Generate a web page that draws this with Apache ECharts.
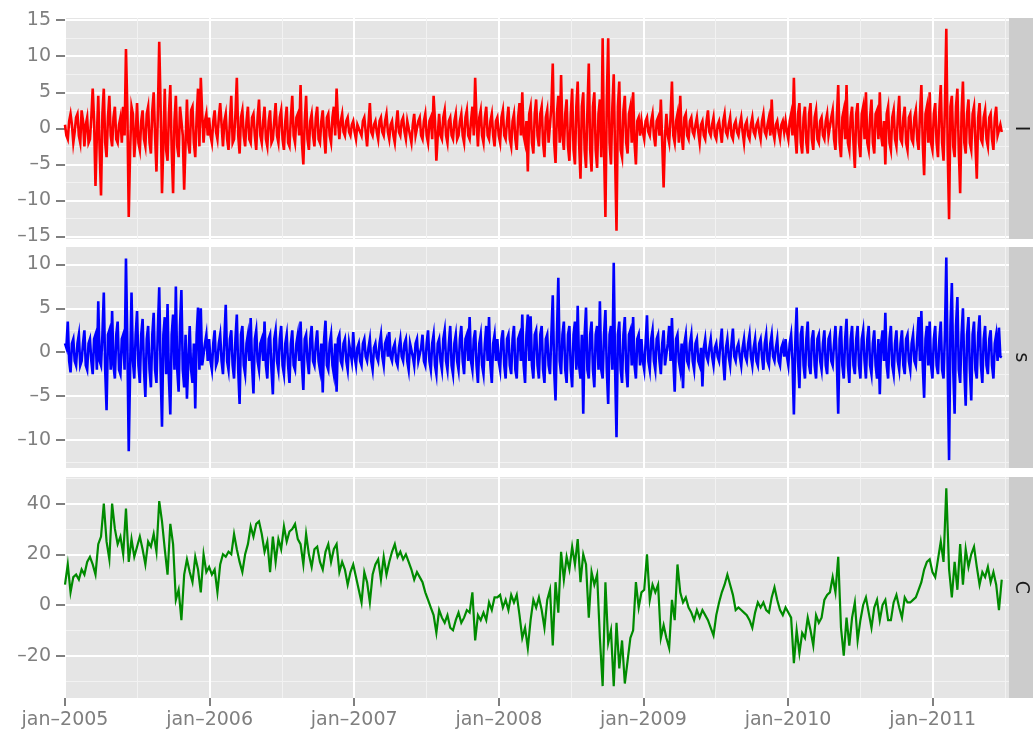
<!DOCTYPE html>
<html>
<head>
<meta charset="utf-8">
<title>I / s / C</title>
<script src="https://cdn.jsdelivr.net/npm/echarts@6/dist/echarts.min.js"></script>
<style>
  html, body { margin: 0; padding: 0; background: #fff; }
  #chart { width: 1033px; height: 738px; }
</style>
</head>
<body>
<div id="chart"></div>
<script>
  // readings from the first days of jan 2005; I and s every half week, C every week
  const startYear = 2005
  const stepDaysIS = 3.5
  const stepDaysC = 7

  const seriesI = [
    // 2005
    0.5,-1,-1.5,1,2,0.5,-2,-0.5,1.5,2, -1,-2,2.5,1,-2.5,0.5,1.5,-2,-1.5,1.5,
    5.5,1,-8,-1,4.5,-3,-9.3,2,5.5,-2, -4,1.5,4.5,-1,-2.5,1.5,3,-1.5,-2,0.5,
    1.5,-2,3,-1,11,2.5,-12.3,-3,3,2, -4,-1,3.5,-2,-3,1,2.5,-1.5,-2.5,2,
    3,-2,-3.5,2.5,5,-1,-6,2,12,3, -9,-2,5.5,-3,-4.5,2,6,-3,-9,1,
    4.5,-2.5,-4,3,3,-1,-8.5,-2,4,-2, -3.5,2.5,3,-2,-4,1.5,5.5,-2.5,7,2,
    -2,1,2,-1,
    // 2006
    1.5,-1,-2,1,2.5,-0.5,-1.5,1.5,3.5,0.5, -2.5,1,2,-1.5,-3,1,4.5,-2,-1.5,2,
    7,-1,-3.5,1.5,2.5,-1,-2.5,1,3,-1.5, -2,1.5,2,-1,-3,1.5,4,-1,-2,1,
    3,-1.5,-2.5,1,2.5,-2,-1.5,1,3.5,-1, -2,1.5,2.5,-1.5,-3,1,3,-2,-2.5,1.5,
    4.5,-1,-2,1.5,2,-1,6,-2,-5,1, 4.5,-1.5,-3,1,2,-1,-2.5,1.5,3,-1.5,
    -2,1,2.5,-1,-3.5,1.5,2,-1,-2,1.5, 3,-1,5.5,1,-1.5,1,2,-0.5,-1,1,
    1.5,-0.5,-1,0.5,
    // 2007
    1,-0.5,-1.5,0.5,0.5,-0.5,-1,1,1.5,-0.5, -2.5,0.5,3.5,-0.5,-1,0.5,1,-0.5,-1.5,1,
    1.5,-0.5,-1,1,2,-0.5,-1.5,0.5,1,-1, -2,0.5,2.5,-0.5,-1,1,1.5,-0.5,-1.5,1,
    1,-1,-2,0.5,2,-1,-1,1,1.5,-1, -1.5,1,2,-1,-2,1,1.5,-1.5,4.5,1,
    -4.5,-1,2,-1,-1.5,1.5,2.5,-1,-2,1, 1.5,-1,-1.5,1,2,-1.5,-1,1,2,-1,
    -2,1.5,2.5,-1,-1.5,1,3,-1,7,1, -2.5,1.5,2.5,-1,-2,1.5,3,-1,-1.5,1,
    2,-1,-2.5,1,
    // 2008
    1.5,-1,-2,1.5,2.5,-1,-1.5,1,3,-1.5, -2.5,1,2,-1.5,-3,1.5,3.5,-1,5,-1,
    -2,1,-6,2,3,-2,-3.5,2,4,-1, -2.5,2,3,-2,-4,1.5,2.5,-2,-2,3,
    9,-2,-4.8,2,4.5,-2,7.4,-1,-3,2, 4,-2.5,-4.5,2,5.5,-3,-5,3,6.5,-2,
    -7,3,5,-3,-5.5,2.5,9,-3,-6,3, 5,-3,-5.5,2,4,-4,12.5,-3,-12.3,4,
    12.5,-2,-5,3,7.5,-4,-14.2,3,6.5,-3, -4,2.5,4.5,-2,-3.5,2,3,-2,5,-2,
    -5,1,1.5,-1,
    // 2009
    1,-0.5,-1.5,1,1.5,-0.5,-1,1,2,-1, -2.5,1,1.5,-1,4,-2,-8.2,-1,2,-1,
    -2,1.5,6.5,-1,-2,1,2,-2,4.5,-1, -3,1.5,2,-1,-1.5,1,1.5,-0.5,-1,0.5,
    1.5,-0.5,-2,0.5,1,-1,-1.5,1,2.5,-0.5, -1,0.5,1.5,-1,-1.5,0.5,1,-0.5,-2,1,
    2,-0.5,-1,0.5,1.5,-1,-1.5,0.5,1,-0.5, -1,0.5,1.5,-0.5,-2,0.5,1,-1,-1.5,0.5,
    1.5,-0.5,-1,0.5,1,-0.5,-1.5,1,2,-0.5, -1,0.5,1.5,-1,4,-0.5,-1.5,0.5,1,-0.5,
    -1.5,0.5,1,-0.5,
    // 2010
    1,-0.5,-1.5,1,2,-1,7,-1,-3.5,2, 3.5,-2,-3.5,1.5,3,-2,-3.5,2,3.5,-1.5,
    -3,1.5,2.5,-1.5,-2,1,1.5,-1,-1.5,1, 2,-1,-1,1.5,2.5,-1.5,-3,1.5,6,-2,
    -4,1.5,2.5,-1.5,6,-2,-3,1.5,3,-2, -5.5,2,3.5,-2,-4,2,3,-1.5,5,-2,
    -3,1.5,4,-2,-3.5,2,2.5,-1.5,5,-1, -2.5,1,-5,2,3,-2,-3,1.5,2.5,-1.5,
    -2.5,1.5,4.5,-1.5,-2,1.5,3,-2,-3,1.5, 2,-1.5,-2,1.5,2.5,-1.5,-3,2,6,-2,
    -6.5,2,3,-2,
    // 2011
    5,-2,-3,2,3.5,-2,-4,2.5,6,-2, -4.5,3,13.8,-3,-12.6,3,4.5,-2.5,-4,3,
    5.5,-3,-9,2,6.5,-2,-3.5,2,4,-2, -3,2,3,-2,-7,1.5,3.5,-1.5,-2,1.5,
    2.5,-1.5,-2.5,1.5,2,-1.5,-3,1.5,3,-1, -1,0.5,-0.5
  ]

  const seriesS = [
    // 2005
    1,0.5,3.5,-1,-2.3,1,1.5,-1,-1.5,1, 2,-1.5,-1,1,2.5,-1.5,-2,1,1.5,-1,
    -2.5,1.5,2,-2,5.8,-1,-1.5,2,6.8,-2, -6.6,2,2.5,-2,4.7,-1.5,-3,2,3.5,-2,
    -2.5,1.5,2,-2,10.7,1,-11.3,-2,6.8,-1, -3,2,4.7,-1.5,-3.5,2,3.8,-2,-5.1,1.5,
    3,-2,-4,2,4.5,-2,-3.5,2.5,7.4,-2, -8.5,2,4,-2.5,5.5,-3,-7.1,2,4.3,-2,
    7.5,-2,-4.5,3,7.1,-2,-4,2,-5.3,-1, 3,-2,-3.5,1,-6.4,2,5.1,-2,5,-1.5,
    -1.5,1,2,-1,
    // 2006
    1.5,-1,-2,1,2.5,-1.5,-1,1,2,-1, -2.5,1.5,5.4,-1,-2,1.5,2.5,-1.5,-3,1.5,
    4.3,-2,-5.9,2,3,-1.5,-2.5,1,2,-1, 3.9,-1.5,-4.7,1.5,2.5,-1,-2,1,1.5,-1,
    3.5,-1.5,-3,1.5,2,-2,-4.8,1.5,2.5,-1, -2,1.5,3,-1.5,-2.5,1,2,-1.5,-3.5,1,
    2.5,-1.5,-2,1,2,-1,3.5,-1.5,-4.3,1.5, 2,-1,-2.5,1.5,3,-1,-1.5,1,2.5,-1,
    -2,1,-4.6,1.5,3.6,-1.5,-2,1,2,-1.5, -2.5,1,-4.5,1.5,2,-1,-1.5,1,1.5,-1,
    -2,1,1,-1,
    // 2007
    2.3,-0.5,-1.5,0.5,1,-1,-1.5,1,1.5,-0.5, -1,0.5,1.5,-1,-2,0.5,1,-0.5,-1,1,
    2,-0.5,-1.5,1,1.5,-0.5,2.3,-0.5,-1,0.5, 1,-1,-1.5,0.5,1.5,-0.5,-1,1,1.5,-1,
    -2,1,1,-0.5,-1.5,1,1.5,-1,-1,0.5, 2,-1,-1.5,1,2.5,-1,-2,1,2,-1.5,
    -2.5,1,1.5,-1,-2,1.5,2.5,-1,-2,1, 3,-1.5,-2.5,1,2,-1,-2,1.5,3,-1,
    -2.5,1.5,2,-1,4,-1,-2,1.5,2.5,-1.5, -3.5,1,2,-1.5,-2.5,1,3,-1,4,-1.5,
    -3.5,1,2,-1,
    // 2008
    1.5,-1,-2,1.5,2.5,-1.5,-3,1.5,2,-1.5, -2.5,1.5,3,-2,-3,1.5,2,-1,4.3,-1.5,
    -3.5,2,4.3,-1,4.1,-1.5,-3,2,2.5,-1.5, -3,2,3,-2,-3.5,1.5,2,-1.5,-2.5,2,
    6.5,-2,-5.5,2,8.5,-1,-2.5,2,3.5,-2, -3.5,2,3,-2,-4,2,3.5,-2,5.3,-1.5,
    -3,2,-7,2,5.1,-2,-3,2,3.5,-2, -4,2,3,-2,5.8,-2,-3,2,4.8,-2,
    -5.9,2,3,-2,10.2,-2,-9.7,2,3.5,-2, -3.5,2,4,-2,-4,2,2.5,-1.5,4,-1.5,
    -3,1.5,2,-1.5,
    // 2009
    1.5,-1,-2,1,4.2,-1,-2,1.5,2.5,-1, -2,1.5,2,-1,-2.5,1,2.5,-1.5,-1.5,1,
    3,-1,3.9,-1,-4.5,1.5,2,-1,-2,1, -4.1,1,2,-1,-1.5,1,2,-1,-2,1,
    1.5,-1,-1.5,0.5,-3.9,0.5,1.5,-0.5,-1,0.5, 1.5,-0.5,-1.5,0.5,1,-0.5,-1,1,2.7,-1,
    -3.2,0.5,1.5,-0.5,-1.5,1,2.7,-0.5,-1,0.5, 1,-0.5,-1.5,0.5,1.5,-0.5,-1,1,2,-0.5,
    -1.5,0.5,1.5,-1,-1.5,1,1.5,-0.5,-2,1, 2,-1,-1.5,1,2,-0.5,-1,0.5,1.5,-1,
    -1.5,0.5,1,-0.5,
    // 2010
    1.5,-0.5,-1.5,1,2,-1,-7.1,1,5.1,-1, -4.1,2,3,-1.5,-3,1.5,3.5,-1.5,-2.5,1.5,
    2.5,-1.5,-3,1.5,2,-1,-2,1,2.5,-1.5, -2.5,1.5,2,-1,-1.5,1,3,-1,-7,1.5,
    3,-1.5,-3,1.5,3.8,-1.5,-3.5,1.5,3,-1.5, -2.5,1.5,3,-1.5,-3,1.5,2.5,-1,-3,1.5,
    3,-1.5,-2.5,1,2.5,-1.5,-3,1.5,-4.8,1, 2.5,-1,4.5,-1.5,-3,1.5,3,-1.5,-2.5,1,
    2.5,-1,-2,1,2.5,-1.5,-2.5,1.5,2,-1, -2,1,2,-1,-1.5,1.5,4,-1,4.7,-1.5,
    -5.2,1.5,3,-1.5,
    // 2011
    3.5,-1.5,-3,1.5,3,-1.5,-2.5,1.5,3.5,-2, -3,2,10.8,-2,-12.3,3,7.9,-2,-7,3,
    6.3,-2,-3.5,2,5,-2,-6.1,2,4,-2, -5.5,2,3.5,-2,-3,2,4.2,-1.5,-3.5,1.5,
    3,-1.5,-2.5,1.5,2.5,-1.5,-3,1,2,-1, 2.8,-0.5,-0.6
  ]

  const seriesC = [
    8,16,5,11,12,10,14,12,17,19, 16,12,24,27,40,25,18,40,30,24, 27,20,38,17,26,19,23,27,22,16, 25,23,28,21,41,33,22,12,32,24, 2,6,-6,12,18,13,9,19,14,5, 20,13,
    15,12,14,5,16,20,19,21,20,28, 22,17,13,20,24,31,27,32,33,28, 21,25,13,27,17,26,22,31,25,29, 30,32,26,24,16,28,20,15,22,23, 17,14,21,24,17,22,24,13,17,14, 8,13,
    16,11,6,1,13,9,1,12,16,18, 10,19,12,17,21,24,19,21,18,20, 17,14,10,13,11,9,5,2,-1,-4, -11,-2,-5,-7,-4,-9,-10,-6,-3,-7, -5,-2,-3,5,-14,-4,-6,-3,-6,1, -2,3,
    3,4,-1,2,-2,4,1,4,-4,-13, -9,-17,-6,2,-1,3,-2,-9,2,6, -16,9,-3,21,10,19,14,23,16,26, 9,20,16,-5,13,8,12,-13,-32,9, -15,-10,-32,-7,-25,-14,-31,-22,-13,-10, 9,-1,
    5,6,20,2,8,5,8,-13,-8,-13, -17,2,-6,16,5,1,3,-1,-3,-6, -2,-5,-2,-4,-6,-9,-12,-4,1,5, 8,12,8,4,-2,-1,-2,-3,-4,-6, -9,-3,1,-1,1,-2,-3,3,7,2, -2,-4,
    -1,-3,-5,-23,-10,-19,-11,-13,-5,-10, -16,-4,-7,-5,2,4,5,11,5,19, -9,-20,-5,-16,-5,1,-14,-6,0,3, -3,-9,-1,2,-6,0,2,-6,-6,1, 4,-1,-5,3,1,1,2,3,6,9, 14,17,
    18,13,11,18,25,17,46,14,3,17, 6,24,8,22,15,20,23,15,8,13, 11,15,9,13,8,-2,10
  ]

  const panelNames = ['I', 's', 'C']
  const panelColors = ['#FF0000', '#0000FF', '#008B00']
  const yearTicks = [2005, 2006, 2007, 2008, 2009, 2010, 2011]
  const halfYearTicks = [2005.5, 2006.5, 2007.5, 2008.5, 2009.5, 2010.5, 2011.5]
  const yMajorTicks = [[-15, -10, -5, 0, 5, 10, 15], [-10, -5, 0, 5, 10], [-20, 0, 20, 40]]
  const yMinorTicks = [[-12.5, -7.5, -2.5, 2.5, 7.5, 12.5], [-12.5, -7.5, -2.5, 2.5, 7.5], [-30, -10, 10, 30, 50]]
  const yRanges = [[-15.35, 15.3], [-13.2, 12.0], [-36.7, 50.5]]
  const xRange = [2005, 2011.528]

  const panelTops = [18, 247, 477]
  const panelHeight = 221
  const lineWidths = [2.6, 2.6, 2.2]
  const font = 'DejaVu Sans'
  const labelGrey = '#7F7F7F'

  function fmtNum(v) {
    return v < 0 ? '\u2013' + Math.abs(v) : String(v)
  }

  function toPoints(values, stepDays) {
    return values.map((v, i) => [startYear + i * stepDays / 365.25, v])
  }

  const allSeries = [seriesI, seriesS, seriesC]
  const allSteps = [stepDaysIS, stepDaysIS, stepDaysC]
  const grid = [], xAxis = [], yAxis = [], series = [], graphic = []

  panelTops.forEach((top, p) => {
    grid.push({
      left: 65, width: 944, top: top, height: panelHeight,
      show: true, backgroundColor: '#E5E5E5', borderWidth: 0
    })
    const isBottom = p === panelTops.length - 1
    // minor x lines (mid-year)
    xAxis.push({
      type: 'value', gridIndex: p, position: 'top', min: xRange[0], max: xRange[1],
      axisLine: { show: false, onZero: false }, axisLabel: { show: false },
      axisTick: { show: false, customValues: halfYearTicks },
      splitLine: { show: true, lineStyle: { color: '#F2F2F2', width: 1 } }
    })
    // major x lines (january)
    xAxis.push({
      type: 'value', gridIndex: p, position: 'bottom', min: xRange[0], max: xRange[1],
      axisLine: { show: false, onZero: false },
      axisTick: { show: isBottom, customValues: yearTicks, length: 8, lineStyle: { color: labelGrey, width: 2 } },
      axisLabel: {
        show: isBottom, customValues: yearTicks, margin: 13,
        color: labelGrey, fontSize: 19, fontFamily: font,
        formatter: v => 'jan\u2013' + v
      },
      splitLine: { show: true, lineStyle: { color: '#FFFFFF', width: 2 } }
    })
    yAxis.push({
      type: 'value', gridIndex: p, position: 'right', min: yRanges[p][0], max: yRanges[p][1],
      axisLine: { show: false, onZero: false }, axisLabel: { show: false },
      axisTick: { show: false, customValues: yMinorTicks[p] },
      splitLine: { show: true, lineStyle: { color: '#F2F2F2', width: 1 } }
    })
    yAxis.push({
      type: 'value', gridIndex: p, position: 'left', min: yRanges[p][0], max: yRanges[p][1],
      axisLine: { show: false, onZero: false },
      axisTick: { show: true, customValues: yMajorTicks[p], length: 9, lineStyle: { color: labelGrey, width: 2 } },
      axisLabel: {
        customValues: yMajorTicks[p], margin: 14,
        color: labelGrey, fontSize: 19, fontFamily: font,
        formatter: fmtNum
      },
      splitLine: { show: true, lineStyle: { color: '#FFFFFF', width: 2 } }
    })
    series.push({
      name: panelNames[p], type: 'line',
      xAxisIndex: p * 2 + 1, yAxisIndex: p * 2 + 1,
      data: toPoints(allSeries[p], allSteps[p]),
      showSymbol: false, symbol: 'none',
      lineStyle: { color: panelColors[p], width: lineWidths[p], join: 'miter' },
      itemStyle: { color: panelColors[p] },
      silent: true
    })
    // facet strip on the right
    graphic.push({
      type: 'rect', shape: { x: 1009, y: top, width: 24, height: panelHeight },
      style: { fill: '#CCCCCC' }
    })
    graphic.push({
      type: 'text', x: 1021, y: top + panelHeight / 2, rotation: -Math.PI / 2,
      style: {
        text: panelNames[p], fill: '#1A1A1A', fontSize: 19, fontFamily: font,
        align: 'center', verticalAlign: 'middle'
      }
    })
  })

  const chart = echarts.init(document.getElementById('chart'))
  chart.setOption({
    animation: false,
    backgroundColor: '#FFFFFF',
    textStyle: { fontFamily: font },
    grid: grid,
    xAxis: xAxis,
    yAxis: yAxis,
    series: series,
    graphic: graphic
  })
  window.addEventListener('resize', function () {
    chart.resize()
  })
</script>
</body>
</html>
